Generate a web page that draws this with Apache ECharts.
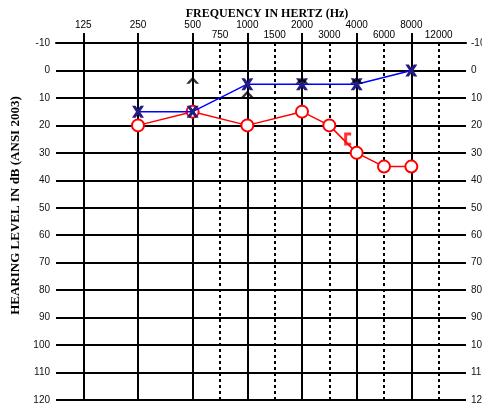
<!DOCTYPE html>
<html>
<head>
<meta charset="utf-8">
<script src="https://cdn.jsdelivr.net/npm/echarts@6/dist/echarts.min.js"></script>
<style>
  html, body { margin: 0; padding: 0; background: #fff; }
  #chart { width: 482px; height: 408px; }
</style>
</head>
<body>
<div id="chart"></div>
<script>
// frequency ticks: octaves are solid lines, half-octaves dashed
var octaveFreqs = [125, 250, 500, 1000, 2000, 4000, 8000];
var midFreqs = [750, 1500, 3000, 6000, 12000];

// left ear air conduction (X)
var leftAirFreqs = [250, 500, 1000, 2000, 4000, 8000];
var leftAirDb = [15, 15, 5, 5, 5, 0];

// right ear air conduction (O)
var rightAirFreqs = [250, 500, 1000, 2000, 3000, 4000, 6000, 8000];
var rightAirDb = [20, 15, 20, 15, 20, 30, 35, 35];

// unmasked bone conduction (^)
var boneFreqs = [500, 1000, 2000, 4000];
var boneDb = [5, 10, 5, 5];

// right masked bone conduction ([)
var maskedBoneFreqs = [4000];
var maskedBoneDb = [25];

// position on the audiogram axis: one unit per octave from 125 Hz
function posOf(f) {
    var i = octaveFreqs.indexOf(f);
    if (i >= 0) return i;
    return midFreqs.indexOf(f) + 2.5;
}
function freqLabel(v) {
    if (Math.abs(v - Math.round(v)) < 0.01) return String(octaveFreqs[Math.round(v)]);
    return String(midFreqs[Math.round(v - 2.5)]);
}
function pairs(freqs, vals) {
    return freqs.map(function (f, i) { return [posOf(f), vals[i]]; });
}

var octavePos = octaveFreqs.map(posOf);
var midPos = midFreqs.map(posOf);

var xShape = 'path://M0,0 L3.5,0 L6,3.5 L8.5,0 L12,0 L8,6 L12,12 L8.5,12 L6,8.5 L3.5,12 L0,12 L4,6 Z';
var caretShape = 'path://M0,6 L6,0 L12,6 L9,6 L6,3 L3,6 Z';
var bracketShape = 'path://M0,0 L7,0 L7,2.8 L3,2.8 L3,10.2 L7,10.2 L7,13 L0,13 Z';

var chart = echarts.init(document.getElementById('chart'));

var option = {
    backgroundColor: '#fff',
    animation: false,
    title: {
        text: 'FREQUENCY IN HERTZ (Hz)',
        left: 262,
        top: 3,
        textAlign: 'center',
        textStyle: { fontFamily: 'Liberation Serif', fontWeight: 'bold', fontSize: 12, color: '#000' }
    },
    grid: { left: 56, right: 16, top: 43, bottom: 8, outerBoundsMode: 'none', containLabel: false },
    xAxis: [{
        type: 'value',
        position: 'top',
        min: -0.5,
        max: 7,
        axisLine: { show: true, onZero: false, lineStyle: { color: '#000', width: 2 } },
        axisTick: { show: true, inside: false, length: 10, customValues: octavePos, lineStyle: { color: '#000', width: 2 } },
        axisLabel: { customValues: octavePos, margin: 13, formatter: freqLabel, fontFamily: 'Liberation Sans', fontSize: 10, color: '#000' },
        splitLine: { show: true, lineStyle: { color: '#000', width: 2 } }
    }, {
        type: 'value',
        position: 'top',
        min: -0.5,
        max: 7,
        axisLine: { show: false },
        axisTick: { show: false, customValues: midPos },
        axisLabel: { customValues: midPos, margin: 3, formatter: freqLabel, fontFamily: 'Liberation Sans', fontSize: 10, color: '#000' },
        splitLine: { show: true, lineStyle: { color: '#000', width: 2, type: [3, 3] } }
    }],
    yAxis: [{
        type: 'value',
        inverse: true,
        min: -10,
        max: 120,
        interval: 10,
        name: 'HEARING LEVEL IN dB (ANSI 2003)',
        nameLocation: 'middle',
        nameGap: 28,
        nameRotate: 90,
        nameTextStyle: { fontFamily: 'Liberation Serif', fontWeight: 'bold', fontSize: 13, color: '#000', padding: [0, 0, 0, 32] },
        axisLine: { show: true, lineStyle: { color: '#000', width: 2 } },
        axisTick: { show: false },
        axisLabel: { margin: 6, fontFamily: 'Liberation Sans', fontSize: 10, color: '#111' },
        splitLine: { show: true, lineStyle: { color: '#000', width: 2 } }
    }, {
        type: 'value',
        position: 'right',
        inverse: true,
        min: -10,
        max: 120,
        interval: 10,
        axisLine: { show: true, lineStyle: { color: '#000', width: 2 } },
        axisTick: { show: false },
        axisLabel: { margin: 5, fontFamily: 'Liberation Sans', fontSize: 10, color: '#111' },
        splitLine: { show: false }
    }],
    series: [{
        name: 'Right air',
        type: 'line',
        data: pairs(rightAirFreqs, rightAirDb),
        symbol: 'emptyCircle',
        symbolSize: 12,
        lineStyle: { color: '#ff0000', width: 1.5 },
        itemStyle: { color: '#ff0000', borderColor: '#ff0000', borderWidth: 3 },
        z: 3
    }, {
        name: 'Right masked bone',
        type: 'scatter',
        data: pairs(maskedBoneFreqs, maskedBoneDb),
        symbol: bracketShape,
        symbolSize: [7, 13],
        symbolOffset: [-9, 0],
        itemStyle: { color: '#ff0000' },
        z: 3
    }, {
        name: 'Left air',
        type: 'line',
        data: pairs(leftAirFreqs, leftAirDb),
        symbol: xShape,
        symbolSize: 12,
        lineStyle: { color: '#0000ff', width: 1.5 },
        itemStyle: { color: '#221c80' },
        z: 4
    }, {
        name: 'Bone',
        type: 'scatter',
        data: pairs(boneFreqs, boneDb),
        symbol: caretShape,
        symbolSize: [13, 7],
        symbolOffset: [0, -4],
        itemStyle: { color: '#000' },
        z: 5
    }]
};

chart.setOption(option);
</script>
</body>
</html>
